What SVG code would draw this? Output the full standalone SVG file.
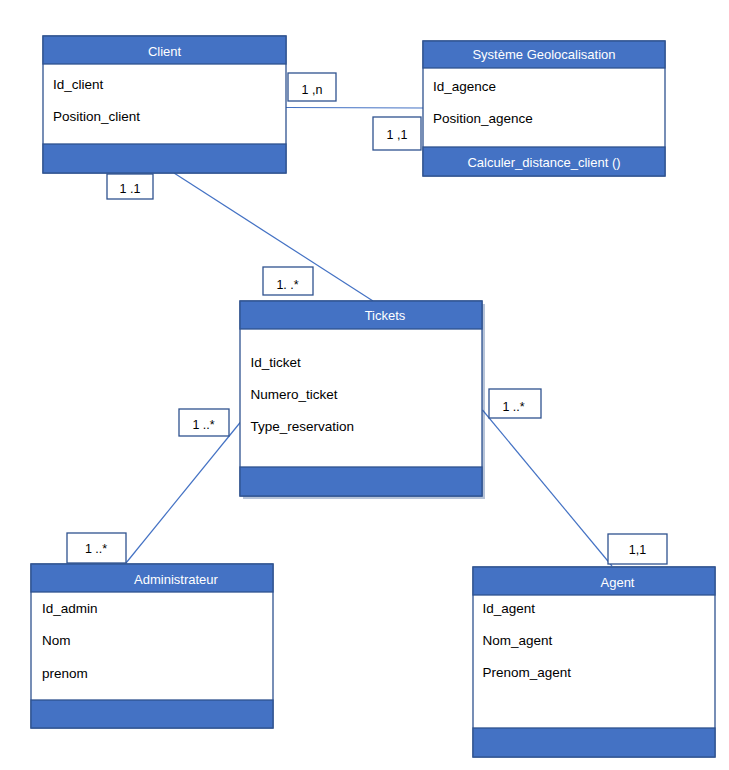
<svg xmlns="http://www.w3.org/2000/svg" width="729" height="770" viewBox="0 0 729 770">
  <style>
    .body { fill: #ffffff; stroke: #2f528f; stroke-width: 1.3; }
    .band { fill: #4472c4; stroke: #2f528f; stroke-width: 1.3; }
    .title { font-family: "Liberation Sans", Arial, sans-serif; font-size: 13px; fill: #ffffff; text-anchor: middle; }
    .attr { font-family: "Liberation Sans", Arial, sans-serif; font-size: 13.5px; fill: #000000; }
    .mult-box { fill: #ffffff; stroke: #2f528f; stroke-width: 1.3; }
    .mult { font-family: "Liberation Sans", Arial, sans-serif; font-size: 12.5px; fill: #000000; text-anchor: middle; }
    .link { stroke: #4472c4; stroke-width: 1.2; fill: none; }
  </style>
  <rect width="729" height="770" fill="#ffffff"/>

  <!-- associations -->
  <g id="connectors">
    <line class="link" x1="286" y1="107.5" x2="423" y2="108"/>
    <line class="link" x1="174" y1="173" x2="373" y2="301"/>
    <line class="link" x1="243" y1="419" x2="126" y2="563"/>
    <line class="link" x1="482.5" y1="410" x2="612" y2="566"/>
  </g>

  <!-- Client class -->
  <g id="client">
    <rect class="body" x="43" y="36" width="243" height="137"/>
    <rect class="band" x="43" y="36" width="243" height="28"/>
    <rect class="band" x="43" y="144" width="243" height="29"/>
    <text class="title" x="164.5" y="56">Client</text>
    <text class="attr" x="53" y="88.5">Id_client</text>
    <text class="attr" x="53" y="120.5">Position_client</text>
  </g>

  <!-- Geolocation system class -->
  <g id="geolocalisation">
    <rect class="body" x="423" y="41" width="242" height="135"/>
    <rect class="band" x="423" y="41" width="242" height="27"/>
    <rect class="band" x="423" y="147" width="242" height="29"/>
    <text class="title" x="544" y="59">Système Geolocalisation</text>
    <text class="attr" x="433" y="91">Id_agence</text>
    <text class="attr" x="433" y="123">Position_agence</text>
    <text class="title" x="544" y="166.5">Calculer_distance_client ()</text>
  </g>

  <!-- Tickets class -->
  <g id="tickets">
    <rect x="243" y="304" width="242" height="195" fill="#2f528f" opacity="0.35"/>
    <rect class="body" x="240" y="301" width="242" height="195"/>
    <rect class="band" x="240" y="301" width="242" height="28"/>
    <rect class="band" x="240" y="467" width="242" height="29"/>
    <text class="title" x="385" y="319.5">Tickets</text>
    <text class="attr" x="250.5" y="366.5">Id_ticket</text>
    <text class="attr" x="250.5" y="399">Numero_ticket</text>
    <text class="attr" x="250.5" y="430.5">Type_reservation</text>
  </g>

  <!-- Administrateur class -->
  <g id="administrateur">
    <rect class="body" x="31" y="564" width="242" height="164"/>
    <rect class="band" x="31" y="564" width="242" height="28"/>
    <rect class="band" x="31" y="700" width="242" height="28"/>
    <text class="title" x="176" y="584">Administrateur</text>
    <text class="attr" x="42" y="612.5">Id_admin</text>
    <text class="attr" x="42" y="644.5">Nom</text>
    <text class="attr" x="42" y="677.5">prenom</text>
  </g>

  <!-- Agent class -->
  <g id="agent">
    <rect class="body" x="473" y="567" width="242" height="190"/>
    <rect class="band" x="473" y="567" width="242" height="28"/>
    <rect class="band" x="473" y="728" width="242" height="29"/>
    <text class="title" x="617.5" y="586.5">Agent</text>
    <text class="attr" x="482.5" y="612.5">Id_agent</text>
    <text class="attr" x="482.5" y="644.5">Nom_agent</text>
    <text class="attr" x="482.5" y="676.5">Prenom_agent</text>
  </g>

  <!-- multiplicities -->
  <g id="mult-client-geo">
    <rect class="mult-box" x="288" y="73" width="48" height="28"/>
    <text class="mult" x="312" y="94">1 ,n</text>
  </g>
  <g id="mult-geo-client">
    <rect class="mult-box" x="373" y="117" width="48" height="33"/>
    <text class="mult" x="397" y="138.5">1 ,1</text>
  </g>
  <g id="mult-client-tickets">
    <rect class="mult-box" x="107" y="174" width="46" height="25"/>
    <text class="mult" x="130" y="192.5">1 .1</text>
  </g>
  <g id="mult-tickets-client">
    <rect class="mult-box" x="263" y="267" width="50" height="28"/>
    <text class="mult" x="287.5" y="288.5">1. .*</text>
  </g>
  <g id="mult-tickets-admin">
    <rect class="mult-box" x="179" y="409" width="50" height="27"/>
    <text class="mult" x="203.5" y="428.5">1 ..*</text>
  </g>
  <g id="mult-admin-tickets">
    <rect class="mult-box" x="67" y="533" width="59" height="30"/>
    <text class="mult" x="96" y="553">1 ..*</text>
  </g>
  <g id="mult-tickets-agent">
    <rect class="mult-box" x="489" y="389" width="52" height="29"/>
    <text class="mult" x="513.5" y="411">1 ..*</text>
  </g>
  <g id="mult-agent-tickets">
    <rect class="mult-box" x="608" y="534" width="59" height="30"/>
    <text class="mult" x="637.5" y="554">1,1</text>
  </g>
</svg>
